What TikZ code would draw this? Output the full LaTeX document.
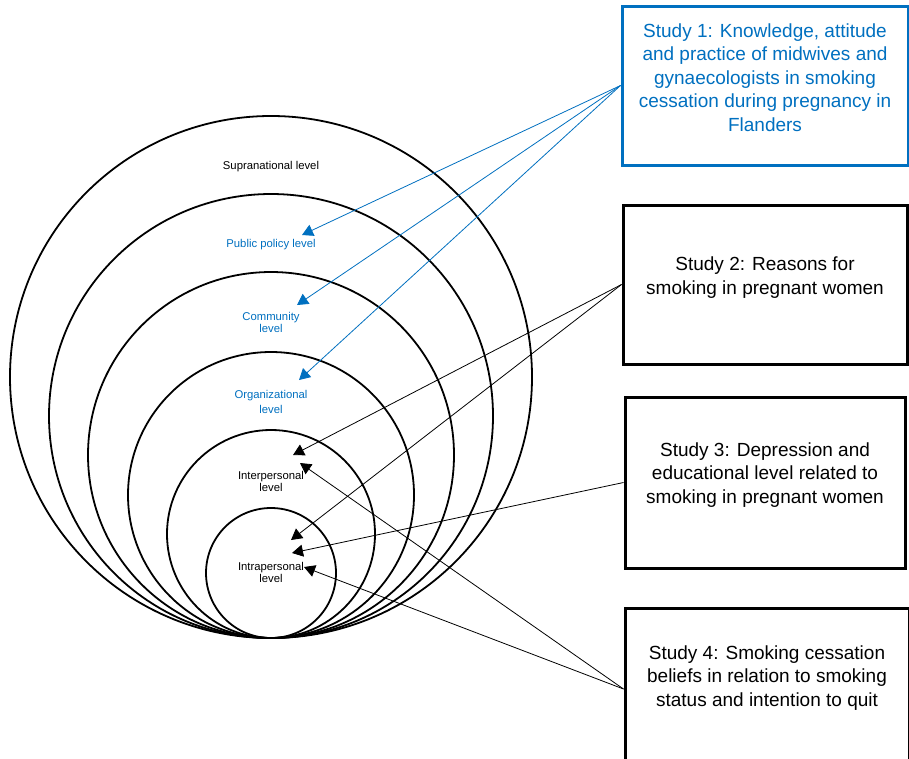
\documentclass[tikz,border=0pt]{standalone}
\usepackage{fontspec}
\setmainfont{Liberation Sans}
\usetikzlibrary{arrows.meta,calc}
\definecolor{studyblue}{RGB}{0,112,192}

\begin{document}
\begin{tikzpicture}[x=1pt,y=-1pt,>={Triangle[length=11pt,width=12pt]},
  ring/.style={line width=1.8pt},
  lvl/.style={align=center,inner sep=0pt,font=\fontsize{11.3}{12}\selectfont},
  studybox/.style={draw,line width=3pt,inner sep=0pt},
  studytext/.style={align=center,inner sep=0pt,font=\fontsize{19}{23.6}\selectfont},
  link/.style={->,line width=0.8pt}]
  \clip (0,0) rectangle (909,758);
  \fill[white] (0,0) rectangle (909,758);

  \foreach \r in {65,104,143,183,222,261}
    \draw[ring] (271,{638-\r}) circle[radius=\r pt];

  \node[lvl] (supra) at (271,167) {Supranational level};
  \node[lvl,studyblue] (pp) at (271,245) {Public policy level};
  \node[lvl,studyblue] (com) at (271,322.5) {Community\\level};
  \node[lvl,studyblue] (org) at (271,401.5) {Organizational\\[3pt]level};
  \node[lvl] (inter) at (271,481) {Interpersonal\\level};
  \node[lvl] (intra) at (271,572.5) {Intrapersonal\\level};

  \coordinate (pp-in) at (302,235);
  \coordinate (com-in) at (297,305);
  \coordinate (org-in) at (299,380);
  \coordinate (inter-a) at (293,455);
  \coordinate (inter-b) at (300,463);
  \coordinate (intra-a) at (291,540);
  \coordinate (intra-b) at (292,553);
  \coordinate (intra-c) at (304,567);

  \node[studybox,draw=studyblue,minimum width=286pt,minimum height=159pt] (s1) at (765,85.5) {};
  \node[studybox,minimum width=284pt,minimum height=159pt] (s2) at (765,284.5) {};
  \node[studybox,minimum width=280pt,minimum height=171pt] (s3) at (765,482.5) {};
  \node[studybox,minimum width=284pt,minimum height=162pt] (s4) at (767,689) {};

  \node[studytext,studyblue] (s1txt) at (765,77.5)
    {Study 1: Knowledge, attitude\\and practice of midwives and\\gynaecologists in smoking\\cessation during pregnancy in\\Flanders};
  \node[studytext] (s2txt) at (765,277.5) {Study 2: Reasons for\\smoking in pregnant women};
  \node[studytext] (s3txt) at (765,475)
    {Study 3: Depression and\\educational level related to\\smoking in pregnant women};
  \node[studytext] (s4txt) at (767,678)
    {Study 4: Smoking cessation\\beliefs in relation to smoking\\status and intention to quit};

  \draw[link,studyblue] (s1.west) -- (pp-in);
  \draw[link,studyblue] (s1.west) -- (com-in);
  \draw[link,studyblue] (s1.west) -- (org-in);
  \draw[link] (s2.west) -- (inter-a);
  \draw[link] (s2.west) -- (intra-a);
  \draw[link] (s3.west) -- (intra-b);
  \draw[link] (s4.west) -- (inter-b);
  \draw[link] (s4.west) -- (intra-c);
\end{tikzpicture}
\end{document}
